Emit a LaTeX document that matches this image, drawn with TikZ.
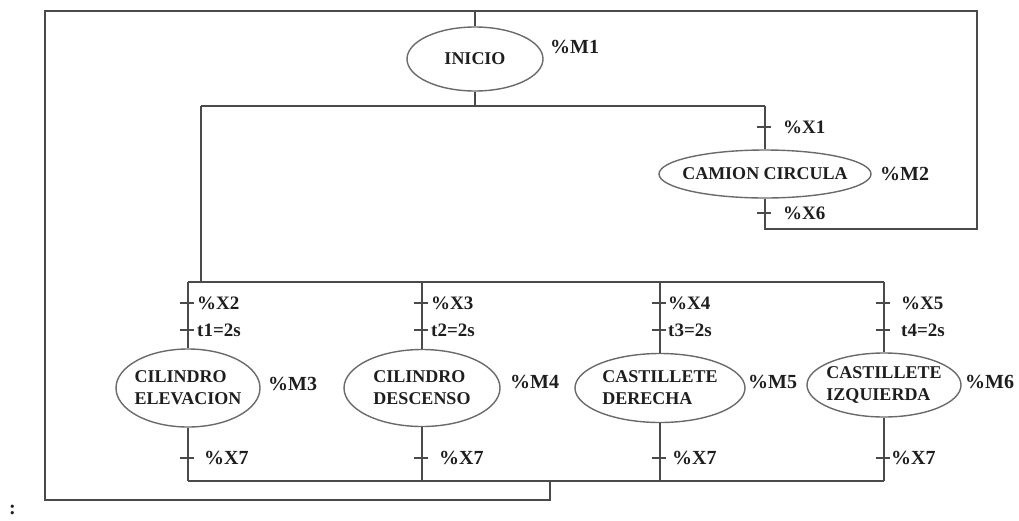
\documentclass[tikz,border=0pt]{standalone}
\usepackage{fontspec}
\setmainfont{Liberation Serif}
\usepackage{xcolor}
\usepackage{tikz}
\usetikzlibrary{shapes.geometric}

\definecolor{wiregray}{HTML}{4A4A4A}
\definecolor{ringgray}{HTML}{6A6A6A}
\definecolor{inkgray}{HTML}{1E1E1E}

\begin{document}
\begin{tikzpicture}[
    x=1pt, y=-1pt,
    state/.style={
        ellipse,
        inner xsep=-4pt,
        inner ysep=0pt,
        align=left,
        draw=ringgray,
        line width=1.4pt,
        text=inkgray,
        font=\bfseries\fontsize{18}{22}\selectfont
    },
    memlabel/.style={anchor=west, inner sep=0pt, text=inkgray,
        font=\bfseries\fontsize{20}{22}\selectfont},
    condlabel/.style={anchor=west, inner sep=0pt, text=inkgray,
        font=\bfseries\fontsize{19}{21}\selectfont},
    wire/.style={draw=wiregray, line width=1.8pt},
    tick/.style={draw=wiregray, line width=1.4pt}
]
\useasboundingbox (0,0) rectangle (1019,520);

% Nodes
\node[state, minimum width=136, minimum height=64] (inicio) at (475,59) {INICIO};
\node[memlabel] (m1) at (550,47) {\%M1};

\node[state, inner xsep=-8pt, minimum width=212, minimum height=48] (camion) at (765,174) {CAMION CIRCULA};
\node[memlabel] (m2) at (880,174) {\%M2};
\node[condlabel] (x1) at (783,127) {\%X1};
\node[condlabel] (x6) at (783,213) {\%X6};

\node[state, minimum width=144, minimum height=78] (cil1) at (188,388) {CILINDRO\\ELEVACION};
\node[memlabel] (m3) at (268,384) {\%M3};
\node[condlabel] (x2) at (197,303) {\%X2};
\node[condlabel] (t1) at (197,330) {t1=2s};
\node[memlabel] (x7a) at (204,458) {\%X7};

\node[state, minimum width=156, minimum height=77] (cil2) at (422,388) {CILINDRO\\DESCENSO};
\node[memlabel] (m4) at (510,382) {\%M4};
\node[condlabel] (x3) at (431,303) {\%X3};
\node[condlabel] (t2) at (431,330) {t2=2s};
\node[memlabel] (x7b) at (439,458) {\%X7};

\node[state, minimum width=170, minimum height=69] (cas1) at (660,388) {CASTILLETE\\DERECHA};
\node[memlabel] (m5) at (748,382) {\%M5};
\node[condlabel] (x4) at (668,303) {\%X4};
\node[condlabel] (t3) at (668,330) {t3=2s};
\node[memlabel] (x7c) at (672,458) {\%X7};

\node[state, minimum width=154, minimum height=64] (cas2) at (884,385) {CASTILLETE\\IZQUIERDA};
\node[memlabel] (m6) at (965,382) {\%M6};
\node[condlabel] (x5) at (901,303) {\%X5};
\node[condlabel] (t4) at (901,330) {t4=2s};
\node[memlabel] (x7d) at (891,458) {\%X7};

\node[memlabel] (colon) at (9,510) {:};

% Junctions
\coordinate (bus1w) at (201,106);
\coordinate (bus1e) at (765,106);
\coordinate (bus2w) at (188,282);
\coordinate (bus2e) at (884,282);
\coordinate (bus3w) at (188,481);
\coordinate (bus3e) at (884,481);
\coordinate (ret) at (550,481);
\coordinate (loopl) at (45,500);
\coordinate (loopr) at (977,229);
\coordinate (looptop) at (977,11);

% Lines
\draw[wire] (inicio.south) -- (inicio.south |- bus1w);
\draw[wire] (bus1w) -- (bus1e);
\draw[wire] (bus1e) -- (camion.north);
\draw[wire] (camion.south) |- (loopr) -- (looptop) -| (inicio.north);
\draw[wire] (bus1w) -- (bus1w |- bus2w);
\draw[wire] (bus2w) -- (bus2e);
\draw[wire] (bus3w) -- (bus3e);
\draw[wire] (ret) |- (loopl) -- (loopl |- looptop) -| (inicio.north);

\draw[wire] (cil1.north |- bus2w) -- (cil1.north);
\draw[wire] (cil1.south) -- (cil1.south |- bus3w);
\draw[wire] (cil2.north |- bus2w) -- (cil2.north);
\draw[wire] (cil2.south) -- (cil2.south |- bus3w);
\draw[wire] (cas1.north |- bus2w) -- (cas1.north);
\draw[wire] (cas1.south) -- (cas1.south |- bus3w);
\draw[wire] (cas2.north |- bus2w) -- (cas2.north);
\draw[wire] (cas2.south) -- (cas2.south |- bus3w);

% Transitions
\draw[tick] ([xshift=-8pt]x1 -| camion) -- ([xshift=6pt]x1 -| camion);
\draw[tick] ([xshift=-8pt]x6 -| camion) -- ([xshift=6pt]x6 -| camion);
\draw[tick] ([xshift=-8pt]x2 -| cil1) -- ([xshift=6pt]x2 -| cil1);
\draw[tick] ([xshift=-8pt]t1 -| cil1) -- ([xshift=6pt]t1 -| cil1);
\draw[tick] ([xshift=-8pt]x7a -| cil1) -- ([xshift=6pt]x7a -| cil1);
\draw[tick] ([xshift=-8pt]x3 -| cil2) -- ([xshift=6pt]x3 -| cil2);
\draw[tick] ([xshift=-8pt]t2 -| cil2) -- ([xshift=6pt]t2 -| cil2);
\draw[tick] ([xshift=-8pt]x7b -| cil2) -- ([xshift=6pt]x7b -| cil2);
\draw[tick] ([xshift=-8pt]x4 -| cas1) -- ([xshift=6pt]x4 -| cas1);
\draw[tick] ([xshift=-8pt]t3 -| cas1) -- ([xshift=6pt]t3 -| cas1);
\draw[tick] ([xshift=-8pt]x7c -| cas1) -- ([xshift=6pt]x7c -| cas1);
\draw[tick] ([xshift=-8pt]x5 -| cas2) -- ([xshift=6pt]x5 -| cas2);
\draw[tick] ([xshift=-8pt]t4 -| cas2) -- ([xshift=6pt]t4 -| cas2);
\draw[tick] ([xshift=-8pt]x7d -| cas2) -- ([xshift=6pt]x7d -| cas2);

\end{tikzpicture}
\end{document}
